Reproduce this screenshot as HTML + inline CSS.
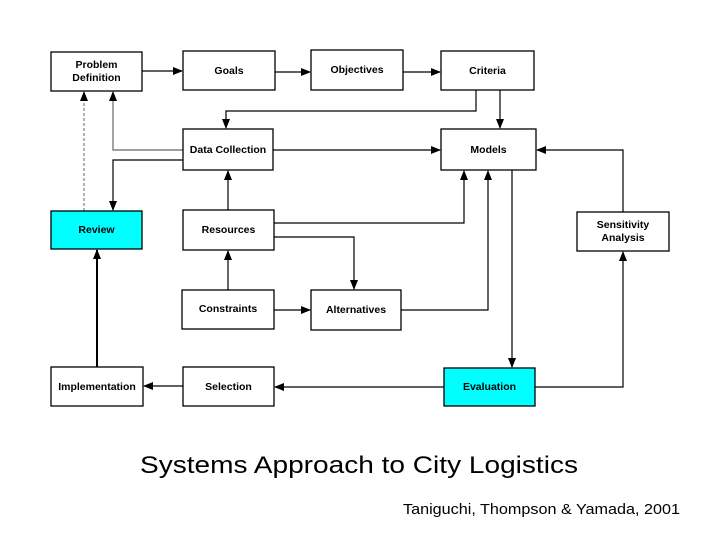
<!DOCTYPE html>
<html><head><meta charset="utf-8"><style>
html,body{margin:0;padding:0;background:#fff;}
svg{display:block;}
.b{fill:#fff;stroke:#000;stroke-width:1.3;}
.c{fill:#00ffff;stroke:#000;stroke-width:1.3;}
.t{font-family:"Liberation Sans",sans-serif;font-weight:bold;font-size:10.5px;text-anchor:middle;fill:#000;}
.l{fill:none;stroke:#000;stroke-width:1.2;}
</style></head><body>
<svg width="720" height="540" viewBox="0 0 720 540" xmlns="http://www.w3.org/2000/svg">
<defs>
<marker id="a" markerWidth="10" markerHeight="8" refX="9" refY="4" orient="auto" markerUnits="userSpaceOnUse">
<path d="M0,0 L10,4 L0,8 z" fill="#000"/></marker>
</defs>
<!-- connectors -->
<line class="l" x1="142" y1="71" x2="182" y2="71" marker-end="url(#a)"/>
<line class="l" x1="275" y1="72" x2="310" y2="72" marker-end="url(#a)"/>
<line class="l" x1="403" y1="72" x2="440" y2="72" marker-end="url(#a)"/>
<polyline class="l" points="476,90 476,111 226,111 226,128" marker-end="url(#a)"/>
<line class="l" x1="500" y1="90" x2="500" y2="128" marker-end="url(#a)"/>
<line class="l" x1="273" y1="150" x2="440" y2="150" marker-end="url(#a)"/>
<polyline class="l" points="183,150 113,150 113,92" marker-end="url(#a)" style="stroke:#666"/>
<polyline class="l" points="183,160 113,160 113,210" marker-end="url(#a)"/>
<line x1="84" y1="211" x2="84" y2="92" stroke="#999" stroke-width="1.5" stroke-dasharray="3,2" marker-end="url(#a)"/>
<line class="l" x1="228" y1="210" x2="228" y2="171" marker-end="url(#a)"/>
<polyline class="l" points="274,223 464,223 464,171" marker-end="url(#a)"/>
<polyline class="l" points="274,237 354,237 354,289" marker-end="url(#a)"/>
<line class="l" x1="274" y1="310" x2="310" y2="310" marker-end="url(#a)"/>
<line class="l" x1="228" y1="290" x2="228" y2="251" marker-end="url(#a)"/>
<polyline class="l" points="401,310 488,310 488,171" marker-end="url(#a)"/>
<line class="l" x1="512" y1="170" x2="512" y2="367" marker-end="url(#a)"/>
<line class="l" x1="444" y1="387" x2="275" y2="387" marker-end="url(#a)"/>
<line class="l" x1="183" y1="386" x2="144" y2="386" marker-end="url(#a)"/>
<line x1="97" y1="367" x2="97" y2="250" stroke="#000" stroke-width="2" marker-end="url(#a)"/>
<polyline class="l" points="535,387 623,387 623,252" marker-end="url(#a)"/>
<polyline class="l" points="623,212 623,150 537,150" marker-end="url(#a)"/>
<!-- boxes -->
<rect class="b" x="51" y="52" width="91" height="39"/>
<text class="t" x="96.5" y="68">Problem</text><text class="t" x="96.5" y="81">Definition</text>
<rect class="b" x="183" y="51" width="92" height="39"/><text class="t" x="229" y="74">Goals</text>
<rect class="b" x="311" y="50" width="92" height="40"/><text class="t" x="357" y="73">Objectives</text>
<rect class="b" x="441" y="51" width="93" height="39"/><text class="t" x="487.5" y="74">Criteria</text>
<rect class="b" x="183" y="129" width="90" height="41"/><text class="t" x="228" y="153">Data Collection</text>
<rect class="b" x="441" y="129" width="95" height="41"/><text class="t" x="488.5" y="153">Models</text>
<rect class="c" x="51" y="211" width="91" height="38"/><text class="t" x="96.5" y="233">Review</text>
<rect class="b" x="183" y="210" width="91" height="40"/><text class="t" x="228.5" y="233">Resources</text>
<rect class="b" x="577" y="212" width="92" height="39"/>
<text class="t" x="623" y="228">Sensitivity</text><text class="t" x="623" y="241">Analysis</text>
<rect class="b" x="182" y="290" width="92" height="39"/><text class="t" x="228" y="312">Constraints</text>
<rect class="b" x="311" y="290" width="90" height="40"/><text class="t" x="356" y="313">Alternatives</text>
<rect class="b" x="51" y="367" width="92" height="39"/><text class="t" x="97" y="390">Implementation</text>
<rect class="b" x="183" y="367" width="91" height="39"/><text class="t" x="228.5" y="390">Selection</text>
<rect class="c" x="444" y="368" width="91" height="38"/><text class="t" x="489.5" y="390">Evaluation</text>
<text x="140" y="473" font-family="Liberation Sans, sans-serif" font-size="24" textLength="438" lengthAdjust="spacingAndGlyphs">Systems Approach to City Logistics</text>
<text x="403" y="514" font-family="Liberation Sans, sans-serif" font-size="15" textLength="277" lengthAdjust="spacingAndGlyphs">Taniguchi, Thompson &amp; Yamada, 2001</text>
</svg>
</body></html>
